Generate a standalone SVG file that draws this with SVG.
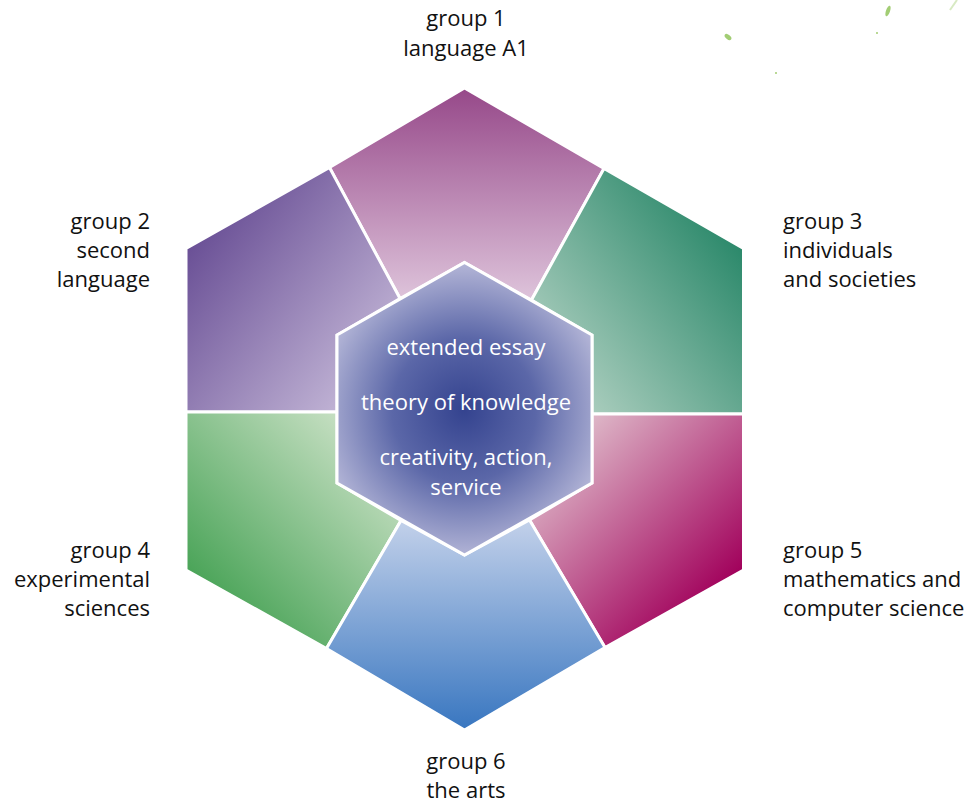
<svg xmlns="http://www.w3.org/2000/svg" width="969" height="803" viewBox="0 0 969 803">
<style>
.seg{stroke:#ffffff;stroke-width:3;stroke-linejoin:miter}
.lbl{font-family:"Open Sans","Noto Sans","Liberation Sans",sans-serif;font-size:22px;fill:#111111}
.in{font-family:"Open Sans","Noto Sans","Liberation Sans",sans-serif;font-size:22px;fill:#ffffff;text-anchor:middle}
.leaf{fill:#8cc152}
</style>
<defs>
<linearGradient id="g1" gradientUnits="userSpaceOnUse" x1="464" y1="88" x2="464" y2="300">
<stop offset="0" stop-color="#964889"/><stop offset="1" stop-color="#dec4db"/>
</linearGradient>
<linearGradient id="g2" gradientUnits="userSpaceOnUse" x1="186" y1="250" x2="390" y2="412">
<stop offset="0" stop-color="#6a5096"/><stop offset="1" stop-color="#d0c5e0"/>
</linearGradient>
<linearGradient id="g3" gradientUnits="userSpaceOnUse" x1="743" y1="250" x2="535" y2="412">
<stop offset="0" stop-color="#2c896b"/><stop offset="1" stop-color="#c2dacd"/>
</linearGradient>
<linearGradient id="g4" gradientUnits="userSpaceOnUse" x1="186" y1="570" x2="345" y2="414">
<stop offset="0" stop-color="#4aa458"/><stop offset="1" stop-color="#c8e0c4"/>
</linearGradient>
<linearGradient id="g5" gradientUnits="userSpaceOnUse" x1="743" y1="570" x2="590" y2="416">
<stop offset="0" stop-color="#a1005b"/><stop offset="1" stop-color="#deb8c8"/>
</linearGradient>
<linearGradient id="g6" gradientUnits="userSpaceOnUse" x1="464" y1="730" x2="464" y2="520">
<stop offset="0" stop-color="#3876c0"/><stop offset="1" stop-color="#c3d1ea"/>
</linearGradient>
<radialGradient id="gc" gradientUnits="userSpaceOnUse" cx="464" cy="410" r="160">
<stop offset="0" stop-color="#34438f"/><stop offset="0.45" stop-color="#5b67a8"/><stop offset="1" stop-color="#c3c3df"/>
</radialGradient>
<linearGradient id="gl" x1="0" y1="0" x2="1" y2="1">
<stop offset="0" stop-color="#7fb942"/><stop offset="1" stop-color="#d8ecc0"/>
</linearGradient>
</defs>

<g id="group1">
<polygon class="seg" fill="url(#g1)" points="329.5,167.5 464.5,88 604,168.5 531.5,300 464.5,262.5 400,298.5"/>
<text class="lbl" x="466" y="26" text-anchor="middle">group 1</text>
<text class="lbl" x="466" y="56" text-anchor="middle">language A1</text>
</g>
<g id="group2">
<polygon class="seg" fill="url(#g2)" points="329.5,167.5 186,248.5 186,412 337,412 337,335 400,298.5"/>
<text class="lbl" x="150" y="229" text-anchor="end">group 2</text>
<text class="lbl" x="150" y="258" text-anchor="end">second</text>
<text class="lbl" x="150" y="287" text-anchor="end">language</text>
</g>
<g id="group3">
<polygon class="seg" fill="url(#g3)" points="604,168.5 743.5,248.5 743.5,414 592,414 592,335 531.5,300"/>
<text class="lbl" x="783" y="229">group 3</text>
<text class="lbl" x="783" y="258">individuals</text>
<text class="lbl" x="783" y="287">and societies</text>
</g>
<g id="group4">
<polygon class="seg" fill="url(#g4)" points="186,412 186,570 326.5,648.5 401,520.5 337,483 337,412"/>
<text class="lbl" x="150" y="558" text-anchor="end">group 4</text>
<text class="lbl" x="150" y="587" text-anchor="end">experimental</text>
<text class="lbl" x="150" y="616" text-anchor="end">sciences</text>
</g>
<g id="group5">
<polygon class="seg" fill="url(#g5)" points="743.5,414 592,414 592,483 529.5,520 605,647.5 743.5,570"/>
<text class="lbl" x="783" y="558">group 5</text>
<text class="lbl" x="783" y="587">mathematics and</text>
<text class="lbl" x="783" y="616">computer science</text>
</g>
<g id="group6">
<polygon class="seg" fill="url(#g6)" points="326.5,648.5 464.5,730 605,647.5 529.5,520 464.5,555 401,520.5"/>
<text class="lbl" x="466" y="769" text-anchor="middle">group 6</text>
<text class="lbl" x="466" y="798" text-anchor="middle">the arts</text>
</g>
<g id="core">
<polygon class="seg" fill="url(#gc)" points="464.5,262.5 592,335 592,483 464.5,555 337,483 337,335"/>
<text class="in" x="466" y="355">extended essay</text>
<text class="in" x="466" y="410">theory of knowledge</text>
<text class="in" x="466" y="465">creativity, action,</text>
<text class="in" x="466" y="495">service</text>
</g>
<g id="leaves" opacity="0.8">
<ellipse class="leaf" cx="728" cy="37" rx="4" ry="2.2" transform="rotate(40 728 37)" fill="url(#gl)"/>
<ellipse class="leaf" cx="888" cy="11" rx="2" ry="5.5" transform="rotate(20 888 11)" fill="url(#gl)"/>
<line x1="950" y1="10" x2="957" y2="0" stroke="#cfe5b5" stroke-width="2"/>
<circle class="leaf" cx="776" cy="73" r="1"/>
<circle class="leaf" cx="877" cy="33" r="1"/>
</g>
</svg>
